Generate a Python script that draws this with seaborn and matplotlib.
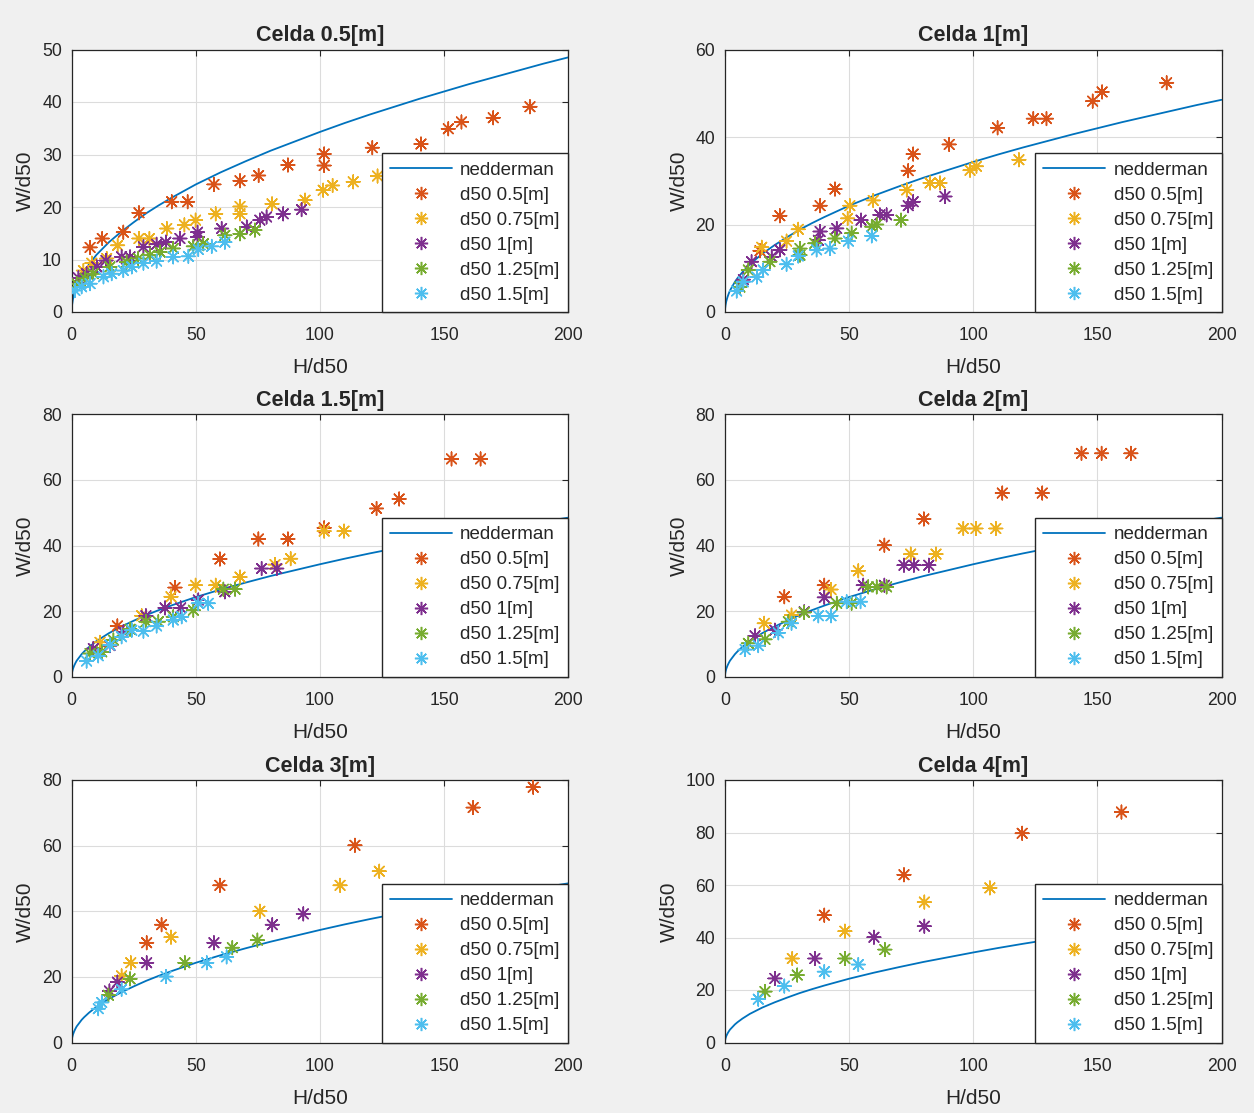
import numpy as np
import pandas as pd
import matplotlib
matplotlib.use("Agg")
import matplotlib.pyplot as plt
from matplotlib.lines import Line2D
import seaborn as sns

# ---------------------------------------------------------------------------
# Nedderman reference curve (W/d50 versus H/d50), same for every cell
# ---------------------------------------------------------------------------
ned_h = [0, 0.05, 0.2, 0.5, 1, 1.5, 2, 3, 4, 5, 7, 10, 15, 20, 25, 30, 35, 40, 45, 50,
         60, 70, 80, 90, 100, 110, 120, 130, 140, 150, 160, 170, 180, 190, 200]
ned_w = [0.0, 0.8, 1.5, 2.4, 3.4, 4.2, 4.9, 5.9, 6.9, 7.7, 9.1, 10.9, 13.3, 15.3, 17.1,
         18.8, 20.3, 21.7, 23.0, 24.3, 26.6, 28.7, 30.7, 32.5, 34.3, 36.0, 37.6, 39.1,
         40.6, 42.0, 43.4, 44.7, 46.0, 47.3, 48.5]

d50_labels = ["d50 0.5[m]", "d50 0.75[m]", "d50 1[m]", "d50 1.25[m]", "d50 1.5[m]"]
cell_titles = ["Celda 0.5[m]", "Celda 1[m]", "Celda 1.5[m]", "Celda 2[m]", "Celda 3[m]", "Celda 4[m]"]
y_max = [50, 60, 80, 80, 80, 100]
y_step = [10, 20, 20, 20, 20, 20]

# ---------------------------------------------------------------------------
# Celda 0.5 m
# ---------------------------------------------------------------------------
c05_h_050 = [7.4, 12.3, 20.8, 27.1, 40.3, 46.7, 57.3, 67.8, 75.3, 87.1, 101.7, 101.7, 121.1, 140.7, 151.7, 157.0, 169.8, 184.6]
c05_w_050 = [12.3, 14.0, 15.2, 18.9, 21.0, 21.0, 24.3, 25.0, 26.0, 28.0, 30.1, 27.9, 31.3, 32.0, 34.9, 36.2, 37.0, 39.1]
c05_h_075 = [4.7, 8.1, 14.1, 18.5, 27.1, 31.3, 38.3, 45.4, 49.9, 58.0, 67.8, 67.8, 80.7, 94.0, 101.3, 105.1, 113.4, 123.2]
c05_w_075 = [7.9, 9.3, 10.2, 12.7, 14.0, 14.0, 15.9, 16.6, 17.5, 18.7, 20.1, 18.7, 20.6, 21.3, 23.2, 24.1, 24.8, 25.9]
c05_h_100 = [2.7, 6.0, 10.1, 13.8, 20.1, 23.5, 28.9, 34.2, 37.9, 43.6, 50.7, 50.7, 60.4, 70.5, 75.8, 78.5, 85.2, 92.6]
c05_w_100 = [6.5, 7.3, 8.6, 9.8, 10.5, 10.5, 12.4, 12.9, 13.3, 14.0, 15.2, 14.3, 15.9, 16.2, 17.5, 18.1, 18.7, 19.5]
c05_h_125 = [2.0, 5.4, 8.7, 15.4, 22.1, 26.8, 31.5, 35.6, 40.9, 49.0, 53.0, 61.7, 67.8, 73.8]
c05_w_125 = [5.4, 6.4, 7.3, 8.6, 9.5, 10.2, 10.8, 11.4, 12.1, 12.5, 13.0, 14.6, 14.9, 15.6]
c05_h_150 = [1.3, 4.0, 7.4, 12.8, 16.1, 20.8, 24.2, 28.9, 34.2, 40.9, 47.0, 51.0, 56.4, 61.7]
c05_w_150 = [4.1, 4.8, 5.4, 6.7, 7.3, 7.9, 8.6, 9.3, 9.7, 10.5, 10.6, 11.9, 12.5, 13.3]

# ---------------------------------------------------------------------------
# Celda 1 m
# ---------------------------------------------------------------------------
c1_h_050 = [14.1, 22.1, 38.3, 44.3, 73.8, 75.8, 90.3, 109.8, 124.2, 129.5, 148.1, 151.9, 177.9]
c1_w_050 = [14.0, 22.0, 24.3, 28.1, 32.3, 36.1, 38.3, 42.1, 44.2, 44.2, 48.2, 50.3, 52.4]
c1_h_075 = [14.8, 24.8, 29.5, 50.3, 49.4, 59.7, 73.2, 82.6, 86.6, 98.7, 101.3, 118.4]
c1_w_075 = [14.8, 16.2, 18.9, 24.3, 21.4, 25.5, 27.9, 29.5, 29.5, 32.4, 33.3, 34.8]
c1_h_100 = [7.4, 10.7, 18.8, 22.1, 37.6, 38.3, 45.0, 54.8, 62.4, 65.1, 73.8, 75.8, 88.6]
c1_w_100 = [7.4, 11.5, 12.6, 14.2, 16.4, 18.4, 19.1, 21.0, 22.2, 22.2, 24.3, 25.2, 26.4]
c1_h_125 = [6.0, 9.4, 18.1, 30.2, 30.2, 36.2, 44.3, 51.0, 59.1, 61.1, 70.9]
c1_w_125 = [5.7, 9.6, 11.5, 14.5, 13.0, 15.7, 16.8, 18.0, 19.5, 20.0, 21.0]
c1_h_150 = [4.7, 7.4, 12.8, 15.4, 24.8, 29.5, 36.9, 42.3, 49.7, 59.1]
c1_w_150 = [4.8, 6.9, 8.0, 9.6, 10.9, 12.8, 14.2, 14.5, 16.2, 17.4]

# ---------------------------------------------------------------------------
# Celda 1.5 m
# ---------------------------------------------------------------------------
c15_h_050 = [18.4, 41.6, 59.7, 75.2, 87.1, 101.7, 122.8, 131.9, 153.0, 164.7]
c15_w_050 = [15.5, 27.2, 35.9, 42.0, 42.0, 45.4, 51.3, 54.2, 66.4, 66.4]
c15_h_075 = [11.4, 28.2, 40.0, 49.9, 58.0, 67.8, 81.9, 88.2, 101.7, 109.7]
c15_w_075 = [10.5, 18.6, 24.4, 27.9, 27.9, 30.4, 34.2, 36.0, 44.4, 44.4]
c15_h_100 = [8.7, 15.4, 20.8, 29.9, 37.6, 43.9, 51.0, 61.7, 76.5, 82.6]
c15_w_100 = [8.6, 9.5, 13.7, 18.6, 21.0, 21.0, 23.4, 25.9, 33.0, 33.0]
c15_h_125 = [7.4, 12.1, 16.8, 23.5, 29.9, 34.9, 40.9, 49.0, 61.1, 65.8]
c15_w_125 = [7.1, 7.6, 11.2, 14.5, 16.8, 16.8, 18.3, 20.3, 26.7, 26.7]
c15_h_150 = [6.0, 10.7, 15.4, 20.1, 24.2, 28.9, 34.2, 40.9, 44.3, 51.0, 55.0]
c15_w_150 = [4.8, 6.4, 9.7, 12.2, 14.2, 13.9, 15.5, 17.3, 18.3, 22.4, 22.4]

# ---------------------------------------------------------------------------
# Celda 2 m
# ---------------------------------------------------------------------------
c2_h_050 = [23.9, 40.0, 64.2, 80.1, 111.7, 127.8, 143.6, 151.7, 163.5]
c2_w_050 = [24.4, 27.9, 40.1, 48.1, 56.0, 56.0, 68.1, 68.1, 68.1]
c2_h_075 = [15.8, 26.8, 42.7, 53.7, 74.8, 85.0, 96.0, 101.1, 109.1]
c2_w_075 = [16.3, 18.8, 26.6, 32.3, 37.4, 37.4, 45.2, 45.2, 45.2]
c2_h_100 = [12.1, 20.1, 31.9, 40.0, 55.7, 64.2, 72.1, 76.1, 82.1]
c2_w_100 = [12.5, 14.2, 19.8, 24.2, 27.9, 27.9, 34.0, 34.0, 34.0]
c2_h_125 = [9.4, 16.1, 25.5, 31.9, 45.0, 51.0, 57.7, 61.1, 65.1]
c2_w_125 = [10.2, 11.4, 16.8, 19.6, 22.4, 22.4, 27.4, 27.4, 27.4]
c2_h_150 = [8.1, 13.4, 21.5, 26.8, 37.6, 42.7, 49.0, 54.6]
c2_w_150 = [8.3, 9.5, 13.4, 16.3, 18.6, 18.6, 22.9, 22.9]

# ---------------------------------------------------------------------------
# Celda 3 m
# ---------------------------------------------------------------------------
c3_h_050 = [30.2, 36.2, 59.7, 114.1, 161.7, 185.9]
c3_w_050 = [30.4, 35.9, 47.9, 60.1, 71.6, 77.8]
c3_h_075 = [20.1, 23.8, 40.0, 75.8, 108.1, 123.9]
c3_w_075 = [20.3, 24.3, 32.1, 40.0, 47.9, 52.2]
c3_h_100 = [15.2, 18.4, 30.2, 57.3, 80.8, 93.3]
c3_w_100 = [15.7, 18.4, 24.3, 30.4, 35.9, 39.2]
c3_h_125 = [14.8, 23.5, 45.6, 64.7, 74.8]
c3_w_125 = [14.4, 19.4, 24.3, 28.9, 31.2]
c3_h_150 = [10.7, 12.1, 20.1, 38.0, 54.4, 62.4]
c3_w_150 = [10.3, 12.2, 16.2, 20.1, 24.3, 26.1]

# ---------------------------------------------------------------------------
# Celda 4 m
# ---------------------------------------------------------------------------
c4_h_050 = [40.0, 72.1, 119.7, 159.7]
c4_w_050 = [48.5, 63.9, 79.7, 87.8]
c4_h_075 = [27.1, 48.3, 80.3, 106.7]
c4_w_075 = [32.0, 42.4, 53.5, 58.9]
c4_h_100 = [20.1, 36.2, 60.0, 80.3]
c4_w_100 = [24.4, 32.0, 40.1, 44.3]
c4_h_125 = [16.1, 29.1, 48.3, 64.4]
c4_w_125 = [19.4, 25.7, 32.0, 35.4]
c4_h_150 = [13.4, 23.9, 40.0, 53.7]
c4_w_150 = [16.5, 21.5, 27.0, 29.7]

cells = [
    [(c05_h_050, c05_w_050), (c05_h_075, c05_w_075), (c05_h_100, c05_w_100), (c05_h_125, c05_w_125), (c05_h_150, c05_w_150)],
    [(c1_h_050, c1_w_050), (c1_h_075, c1_w_075), (c1_h_100, c1_w_100), (c1_h_125, c1_w_125), (c1_h_150, c1_w_150)],
    [(c15_h_050, c15_w_050), (c15_h_075, c15_w_075), (c15_h_100, c15_w_100), (c15_h_125, c15_w_125), (c15_h_150, c15_w_150)],
    [(c2_h_050, c2_w_050), (c2_h_075, c2_w_075), (c2_h_100, c2_w_100), (c2_h_125, c2_w_125), (c2_h_150, c2_w_150)],
    [(c3_h_050, c3_w_050), (c3_h_075, c3_w_075), (c3_h_100, c3_w_100), (c3_h_125, c3_w_125), (c3_h_150, c3_w_150)],
    [(c4_h_050, c4_w_050), (c4_h_075, c4_w_075), (c4_h_100, c4_w_100), (c4_h_125, c4_w_125), (c4_h_150, c4_w_150)],
]

# ---------------------------------------------------------------------------
# Styling
# ---------------------------------------------------------------------------
line_color = "#0072BD"
series_colors = ["#D95319", "#EDB120", "#7E2F8E", "#77AC30", "#4DBEEE"]
dark = "#262626"
asterisk = (8, 2, 0)

sns.set_theme(style="white")
plt.rcParams["font.family"] = ["Liberation Sans", "DejaVu Sans"]
plt.rcParams["axes.edgecolor"] = dark
plt.rcParams["text.color"] = dark
plt.rcParams["axes.labelcolor"] = dark
plt.rcParams["xtick.color"] = dark
plt.rcParams["ytick.color"] = dark

fig = plt.figure(figsize=(12.54, 11.13), dpi=100, facecolor="#f0f0f0")

W, H = 1254.0, 1113.0
col_left = [71.7, 725.0]
row_top = [49.5, 414.3, 780.0]
ax_w, ax_h = 496.5, 262.5

for i in range(6):
    r, c = divmod(i, 2)
    left = col_left[c] / W
    bottom = 1 - (row_top[r] + ax_h) / H
    ax = fig.add_axes([left, bottom, ax_w / W, ax_h / H])
    ax.set_facecolor("white")

    sns.lineplot(x=ned_h, y=ned_w, ax=ax, color=line_color, linewidth=1.3,
                 estimator=None, sort=False, legend=False)

    frames = []
    for lab, (hh, ww) in zip(d50_labels, cells[i]):
        frames.append(pd.DataFrame({"H/d50": hh, "W/d50": ww, "serie": lab}))
    df = pd.concat(frames, ignore_index=True)
    sns.scatterplot(data=df, x="H/d50", y="W/d50", hue="serie", hue_order=d50_labels,
                    palette=series_colors, marker=asterisk, s=95, linewidth=1.1,
                    legend=False, ax=ax, zorder=3)

    ax.set_xlim(0, 200)
    ax.set_ylim(0, y_max[i])
    ax.set_xticks(np.arange(0, 201, 50))
    ax.set_yticks(np.arange(0, y_max[i] + 1, y_step[i]))
    ax.grid(True, color="#dcdcdc", linewidth=0.8)
    ax.set_axisbelow(True)
    for sp in ax.spines.values():
        sp.set_color(dark)
        sp.set_linewidth(0.9)
    ax.tick_params(direction="in", length=4, width=0.8, top=True, right=True,
                   labelsize=12.7, colors=dark)
    ax.tick_params(axis="x", pad=11)
    ax.tick_params(axis="y", pad=7)
    ax.set_xlabel("H/d50", fontsize=15, labelpad=10)
    ax.set_ylabel("W/d50", fontsize=15, labelpad=5)
    ax.set_title(cell_titles[i], fontsize=15.5, fontweight="bold", pad=6)

    handles = [Line2D([0], [0], color=line_color, lw=1.3, label="nedderman")]
    for lab, col in zip(d50_labels, series_colors):
        handles.append(Line2D([0], [0], linestyle="none", marker=asterisk, markersize=9.5,
                              markeredgewidth=1.1, color=col, label=lab))
    leg = ax.legend(handles=handles, loc="lower right", bbox_to_anchor=(1.0, 0.0),
                    borderaxespad=0.0, fontsize=13.5, frameon=True, fancybox=False,
                    framealpha=1.0, edgecolor=dark, handlelength=3.3,
                    handletextpad=0.45, labelspacing=0.42, borderpad=0.45)
    leg.get_frame().set_linewidth(1.0)

fig.savefig("out.png", dpi=100, facecolor=fig.get_facecolor())
